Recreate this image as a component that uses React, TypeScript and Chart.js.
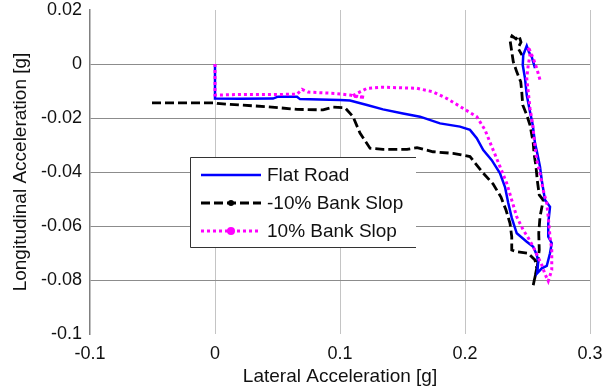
import { useEffect, useRef } from 'react';
import { Chart, registerables } from 'chart.js';

Chart.register(...registerables);

// ---- Data ----
const flatRoadX = [0, 0, 0.02, 0.0464, 0.0504, 0.0656, 0.068, 0.1, 0.108, 0.1216, 0.1344, 0.1504, 0.164, 0.18, 0.196, 0.204, 0.2094, 0.2146, 0.2214, 0.228, 0.232, 0.2346, 0.2374, 0.2414, 0.2494, 0.2546, 0.2574, 0.2586, 0.2578, 0.2614, 0.2654, 0.268, 0.2694, 0.2666, 0.2666, 0.268, 0.264, 0.2614, 0.26, 0.2578, 0.256, 0.2542, 0.252, 0.2494, 0.248, 0.2462, 0.2466, 0.2494, 0.2512, 0.2534, 0.256];
const flatRoadY = [0, -0.0128, -0.0129, -0.0128, -0.0121, -0.0121, -0.013, -0.0133, -0.0135, -0.0152, -0.0168, -0.0183, -0.0195, -0.022, -0.0232, -0.0244, -0.0275, -0.0319, -0.0356, -0.0405, -0.0456, -0.0515, -0.057, -0.0627, -0.0658, -0.0677, -0.0707, -0.0732, -0.0775, -0.0757, -0.0748, -0.0701, -0.0664, -0.064, -0.059, -0.0529, -0.0504, -0.043, -0.038, -0.0331, -0.0293, -0.0226, -0.0177, -0.0115, -0.0053, -0.0004, 0.0033, 0.0067, 0.0044, 0.0026, -0.0015];

const negBankX = [-0.0504, 0, 0.0016, 0.02, 0.0416, 0.0656, 0.0864, 0.0944, 0.104, 0.1104, 0.116, 0.124, 0.1344, 0.1536, 0.1616, 0.1744, 0.1904, 0.204, 0.2136, 0.2224, 0.2288, 0.2328, 0.236, 0.2374, 0.2374, 0.2414, 0.2506, 0.256, 0.2574, 0.256, 0.2546, 0.2578, 0.2594, 0.259, 0.26, 0.2626, 0.2594, 0.2578, 0.2568, 0.2552, 0.2546, 0.252, 0.2494, 0.2462, 0.2454, 0.2446, 0.2414, 0.2386, 0.2374, 0.236, 0.2376, 0.2408, 0.2432, 0.2448, 0.2424, 0.2456];
const negBankY = [-0.0144, -0.0144, -0.0146, -0.0152, -0.0158, -0.0168, -0.017, -0.016, -0.0162, -0.0195, -0.0256, -0.0312, -0.0316, -0.0316, -0.031, -0.0325, -0.0331, -0.0343, -0.0399, -0.0444, -0.0493, -0.0541, -0.059, -0.064, -0.0689, -0.0695, -0.0701, -0.0726, -0.0757, -0.0788, -0.0819, -0.0751, -0.0689, -0.0627, -0.0566, -0.0504, -0.0485, -0.043, -0.038, -0.0331, -0.0293, -0.0226, -0.0189, -0.0152, -0.0103, -0.0066, -0.0029, 0.0009, 0.0046, 0.0089, 0.0104, 0.0093, 0.0104, 0.0081, 0.0059, 0.0033];

const posBankX = [0, 0, 0.02, 0.044, 0.0656, 0.0696, 0.0744, 0.096, 0.108, 0.12, 0.1096, 0.1136, 0.1216, 0.1344, 0.1616, 0.1744, 0.1856, 0.1984, 0.2094, 0.216, 0.2214, 0.228, 0.2334, 0.2374, 0.2414, 0.2466, 0.2506, 0.2546, 0.2576, 0.2614, 0.264, 0.2666, 0.2694, 0.2694, 0.268, 0.2666, 0.2654, 0.2626, 0.26, 0.2574, 0.256, 0.2542, 0.252, 0.2506, 0.2494, 0.2506, 0.252, 0.2506, 0.2546, 0.2574, 0.26];
const posBankY = [0, -0.0115, -0.0113, -0.0113, -0.0112, -0.0094, -0.0104, -0.0109, -0.0115, -0.0124, -0.0119, -0.0109, -0.009, -0.0086, -0.009, -0.0103, -0.0128, -0.0164, -0.0195, -0.0244, -0.0306, -0.038, -0.0442, -0.0504, -0.0566, -0.0615, -0.0644, -0.0677, -0.0707, -0.0744, -0.0778, -0.0804, -0.0763, -0.0689, -0.064, -0.0566, -0.0516, -0.0467, -0.0405, -0.0356, -0.0306, -0.0226, -0.0164, -0.0103, -0.0053, -0.0004, 0.0033, 0.0064, 0.0021, -0.0016, -0.0059];

const seriesNames = ['Flat Road', '-10% Bank Slop', '10% Bank Slop'];

const xTickValues = [-0.1, 0, 0.1, 0.2, 0.3];
const xTickLabels = ['-0.1', '0', '0.1', '0.2', '0.3'];
const yTickValues = [0.02, 0, -0.02, -0.04, -0.06, -0.08, -0.1];
const yTickLabels = ['0.02', '0', '-0.02', '-0.04', '-0.06', '-0.08', '-0.1'];

const xTitle = 'Lateral Acceleration [g]';
const yTitle = 'Longitudinal Acceleration [g]';

const FONT = "'Liberation Sans', Arial, sans-serif";

const toPoints = (xs: number[], ys: number[]) => xs.map((x, i) => ({ x, y: ys[i] }));

const legendPlugin = {
  id: 'boxLegend',
  afterDraw(chart: any) {
    const ctx = chart.ctx as CanvasRenderingContext2D;
    const left = 190, top = 157, right = 416, bottom = 248;
    ctx.save();
    ctx.fillStyle = '#ffffff';
    ctx.fillRect(left, top, right - left, bottom - top);
    ctx.strokeStyle = '#333333';
    ctx.lineWidth = 1;
    ctx.beginPath();
    ctx.moveTo(right, top + 0.5);
    ctx.lineTo(left + 0.5, top + 0.5);
    ctx.lineTo(left + 0.5, bottom - 0.5);
    ctx.lineTo(right, bottom - 0.5);
    ctx.stroke();

    const order = [1, 2, 0]; // dataset indices for Flat, -10%, 10%
    const rowY = [175, 203, 231];
    order.forEach((di, row) => {
      const ds = chart.data.datasets[di];
      const y = rowY[row];
      ctx.save();
      ctx.strokeStyle = ds.borderColor;
      ctx.lineWidth = ds.borderWidth;
      ctx.setLineDash(ds.borderDash || []);
      ctx.beginPath();
      ctx.moveTo(201, y);
      ctx.lineTo(261, y);
      ctx.stroke();
      ctx.restore();
      if (ds.legendMarker) {
        ctx.fillStyle = ds.borderColor;
        ctx.beginPath();
        ctx.arc(231, y, ds.legendMarker, 0, Math.PI * 2);
        ctx.fill();
      }
      ctx.fillStyle = '#111111';
      ctx.font = `19px ${FONT}`;
      ctx.textBaseline = 'middle';
      ctx.textAlign = 'left';
      ctx.fillText(ds.label, 267, y + 1);
    });
    ctx.restore();
  },
};

export default function App() {
  const canvasRef = useRef<HTMLCanvasElement | null>(null);

  useEffect(() => {
    document.body.style.margin = '0';
    const canvas = canvasRef.current;
    if (!canvas) return;
    const chart = new Chart(canvas, {
      type: 'scatter',
      data: {
        datasets: [
          {
            label: seriesNames[2],
            data: toPoints(posBankX, posBankY),
            showLine: true,
            borderColor: '#ff00ff',
            backgroundColor: '#ff00ff',
            borderWidth: 3,
            borderDash: [3, 3],
            pointRadius: 0,
            tension: 0,
            legendMarker: 4,
          } as any,
          {
            label: seriesNames[0],
            data: toPoints(flatRoadX, flatRoadY),
            showLine: true,
            borderColor: '#0000ff',
            backgroundColor: '#0000ff',
            borderWidth: 2.5,
            pointRadius: 0,
            tension: 0,
          } as any,
          {
            label: seriesNames[1],
            data: toPoints(negBankX, negBankY),
            showLine: true,
            borderColor: '#000000',
            backgroundColor: '#000000',
            borderWidth: 2.8,
            borderDash: [9, 4],
            pointRadius: 0,
            tension: 0,
            legendMarker: 3,
          } as any,
        ],
      },
      options: {
        responsive: false,
        animation: false,
        devicePixelRatio: 1,
        layout: { padding: { left: 0, right: 17, top: 10, bottom: 0 } },
        plugins: {
          legend: { display: false },
          tooltip: { enabled: false },
        },
        scales: {
          x: {
            type: 'linear',
            min: -0.1,
            max: 0.3,
            afterBuildTicks: (scale: any) => {
              scale.ticks = xTickValues.map((v) => ({ value: v }));
            },
            afterFit: (scale: any) => {
              scale.height = 55;
              scale.paddingLeft = 0;
              scale.paddingRight = 0;
            },
            ticks: {
              autoSkip: false,
              maxRotation: 0,
              padding: 9,
              color: '#111111',
              font: { family: FONT, size: 18 },
              callback: (_v: any, i: number) => xTickLabels[i],
            },
            grid: {
              drawTicks: false,
              lineWidth: 1,
              color: (c: any) => (c.tick && Math.abs(c.tick.value + 0.1) < 1e-9 ? 'rgba(0,0,0,0)' : '#c4c4c4'),
            },
            border: { display: false },
            title: {
              display: true,
              text: xTitle,
              color: '#111111',
              font: { family: FONT, size: 19 },
              padding: { top: 0, bottom: 1 },
            },
          },
          y: {
            type: 'linear',
            min: -0.1,
            max: 0.02,
            afterBuildTicks: (scale: any) => {
              scale.ticks = yTickValues.map((v) => ({ value: v }));
            },
            afterFit: (scale: any) => {
              scale.width = 90;
              scale.paddingTop = 0;
              scale.paddingBottom = 0;
            },
            ticks: {
              autoSkip: false,
              padding: 8,
              color: '#111111',
              font: { family: FONT, size: 18 },
              callback: (_v: any, i: number) => yTickLabels[i],
            },
            grid: {
              drawTicks: false,
              lineWidth: 1,
              color: (c: any) => {
                const v = c.tick ? c.tick.value : 0;
                if (Math.abs(v - 0.02) < 1e-9 || Math.abs(v + 0.1) < 1e-9) return 'rgba(0,0,0,0)';
                return '#8c8c8c';
              },
            },
            border: { display: true, color: '#808080', width: 1.5 },
            title: {
              display: true,
              text: yTitle,
              color: '#111111',
              font: { family: FONT, size: 19 },
              padding: { top: 9, bottom: 0 },
            },
          },
        },
      },
      plugins: [legendPlugin],
    } as any);
    return () => chart.destroy();
  }, []);

  return (
    <div style={{ width: 607, height: 389 }}>
      <canvas ref={canvasRef} width={607} height={389} style={{ display: 'block' }} />
    </div>
  );
}
